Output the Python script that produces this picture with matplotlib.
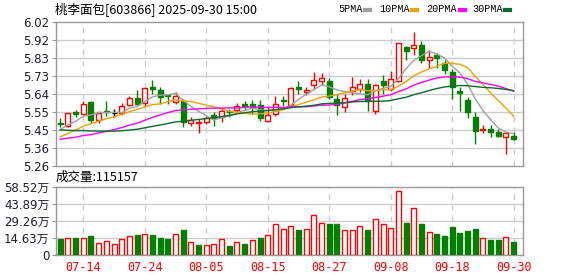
import numpy as np
import pandas as pd
import matplotlib
matplotlib.use("Agg")
import matplotlib.pyplot as plt
from matplotlib.patches import Rectangle
from matplotlib.lines import Line2D

# ---------------- data ----------------
dates = ["07-09","07-10","07-11","07-14","07-15","07-16","07-17","07-18","07-21","07-22",
         "07-23","07-24","07-25","07-28","07-29","07-30","07-31","08-01","08-04","08-05",
         "08-06","08-07","08-08","08-11","08-12","08-13","08-14","08-15","08-18","08-19",
         "08-20","08-21","08-22","08-25","08-26","08-27","08-28","08-29","09-01","09-02",
         "09-03","09-04","09-05","09-08","09-09","09-10","09-11","09-12","09-15","09-16",
         "09-17","09-18","09-19","09-22","09-23","09-24","09-25","09-26","09-29","09-30"]

open_ = [5.487,5.470,5.542,5.534,5.599,5.502,5.551,5.540,5.537,5.581,
         5.617,5.590,5.674,5.660,5.632,5.595,5.604,5.484,5.488,5.493,
         5.530,5.516,5.547,5.555,5.587,5.587,5.582,5.498,5.534,5.608,
         5.583,5.678,5.648,5.687,5.707,5.705,5.610,5.572,5.654,5.666,
         5.693,5.551,5.705,5.666,5.705,5.885,5.878,5.896,5.820,5.843,
         5.804,5.754,5.652,5.608,5.520,5.449,5.454,5.440,5.410,5.419]
high = [5.515,5.541,5.553,5.600,5.600,5.551,5.600,5.560,5.590,5.630,
        5.660,5.672,5.710,5.674,5.640,5.648,5.610,5.520,5.507,5.522,
        5.542,5.564,5.560,5.590,5.600,5.608,5.608,5.569,5.627,5.627,
        5.673,5.706,5.675,5.754,5.751,5.722,5.640,5.640,5.728,5.720,
        5.720,5.693,5.737,5.760,5.905,5.890,5.963,5.920,5.870,5.852,
        5.816,5.772,5.675,5.622,5.542,5.477,5.477,5.454,5.440,5.440]
low = [5.463,5.465,5.518,5.532,5.485,5.488,5.525,5.516,5.530,5.578,
       5.580,5.578,5.640,5.587,5.585,5.587,5.463,5.472,5.436,5.481,
       5.472,5.493,5.516,5.542,5.556,5.534,5.498,5.489,5.525,5.578,
       5.578,5.640,5.631,5.666,5.684,5.614,5.529,5.546,5.631,5.648,
       5.551,5.534,5.640,5.657,5.700,5.816,5.845,5.800,5.776,5.777,
       5.746,5.614,5.551,5.513,5.378,5.431,5.410,5.410,5.325,5.398]
close = [5.480,5.539,5.535,5.587,5.502,5.540,5.542,5.540,5.578,5.619,
         5.587,5.671,5.663,5.622,5.627,5.627,5.489,5.502,5.493,5.513,
         5.513,5.551,5.542,5.578,5.578,5.569,5.511,5.528,5.587,5.600,
         5.671,5.666,5.660,5.710,5.722,5.625,5.583,5.619,5.675,5.693,
         5.604,5.684,5.687,5.720,5.905,5.865,5.896,5.816,5.835,5.830,
         5.763,5.678,5.643,5.542,5.442,5.454,5.440,5.419,5.436,5.400]
# closes of the 29 sessions before the first visible day (estimated from MA lines)
history_close = [5.60,5.59,5.58,5.57,5.56,5.55,5.54,5.52,5.50,5.46,
                 5.45,5.43,5.41,5.39,5.38,5.37,5.36,5.36,5.37,5.38,
                 5.36,5.36,5.37,5.38,5.40,5.42,5.44,5.45,5.47]

volume_wan = [13.7,14.3,14.6,14.3,16.3,10.0,11.7,9.4,13.4,16.3,
              17.1,17.7,17.1,14.6,13.7,17.7,21.4,10.8,8.6,8.6,
              9.4,13.4,7.7,10.8,9.4,12.6,14.6,17.1,26.3,22.0,
              24.8,21.4,22.0,34.0,27.1,26.6,26.6,21.1,21.1,24.6,
              21.4,30.5,26.3,22.8,54.5,27.4,40.0,26.6,19.4,18.0,
              16.3,24.0,18.8,20.6,22.3,14.3,12.8,12.8,15.1,11.52]
volume_up = [0,1,0,1,0,1,1,1,1,1,
             0,1,0,0,0,1,0,1,0,1,
             1,1,0,1,0,1,0,1,1,1,
             1,0,1,1,1,0,0,1,1,1,
             0,1,1,1,1,0,1,0,1,0,
             0,0,0,0,0,1,0,0,1,0]

price_ticks = [5.26,5.355,5.45,5.545,5.64,5.735,5.83,5.925,6.02]
price_labels = ["5.26","5.36","5.45","5.55","5.64","5.73","5.83","5.92","6.02"]
vol_ticks = [0,14.63,29.26,43.89,58.52]
vol_labels = ["0","14.63万","29.26万","43.89万","58.52万"]
xtick_dates = ["07-14","07-24","08-05","08-15","08-27","09-08","09-18","09-30"]

title = "桃李面包[603866] 2025-09-30 15:00"
vol_title = "成交量:115157"
ma_windows = [5, 10, 20, 30]
ma_names = ["5PMA", "10PMA", "20PMA", "30PMA"]

# ---------------- style ----------------
RED = "#ff0000"
GREEN = "#008000"
MA_COLORS = ["#a0a0a0", "#f0a000", "#ff00ff", "#0a6b2c"]
GRID = "#cccccc"
SPINE = "#999999"
TXT = "#1c1c2c"

plt.rcParams["font.family"] = ["Noto Sans CJK SC", "DejaVu Sans"]

fig = plt.figure(figsize=(5.78, 2.76), dpi=100)
ax = fig.add_axes([0.0964, 0.3986, 0.8076, 0.5235])
axv = fig.add_axes([0.0964, 0.0761, 0.8076, 0.2475])

n = len(close)
x = np.arange(n)
tick_idx = [dates.index(d) for d in xtick_dates]

for a in (ax, axv):
    a.set_xlim(-0.585, n + 0.15)
    for s in a.spines.values():
        s.set_color(SPINE)
        s.set_linewidth(1.0)
    a.set_xticks(tick_idx)
    for t in tick_idx:
        a.axvline(t, color=GRID, lw=1, ls=(0, (4, 4)), zorder=0)
    a.tick_params(axis="y", direction="out", length=3, color=SPINE,
                  labelsize=8.5, pad=1.5, labelcolor=TXT)
    a.tick_params(axis="x", length=0)

# price axis
ax.set_ylim(price_ticks[0], price_ticks[-1])
ax.set_yticks(price_ticks)
ax.set_yticklabels(price_labels, family="DejaVu Sans")
for t in price_ticks[1:-1]:
    ax.axhline(t, color=GRID, lw=1, zorder=0)
ax.set_xticklabels([])

w = 0.65
for i in range(n):
    o, h, l, c = open_[i], high[i], low[i], close[i]
    if c > o:
        col, face = RED, "white"
    elif c < o:
        col, face = GREEN, GREEN
    else:
        col, face = "black", "black"
    ax.vlines(x[i], l, h, color=col, lw=1, zorder=2)
    if c != o:
        ax.add_patch(Rectangle((x[i] - w / 2, min(o, c)), w, abs(c - o),
                               facecolor=face, edgecolor=col, lw=1, zorder=3))
    else:
        ax.hlines(o, x[i] - w / 2, x[i] + w / 2, color=col, lw=1, zorder=3)

full = pd.Series(history_close + close)
for win, colr in zip(ma_windows, MA_COLORS):
    ma = full.rolling(win).mean().values[len(history_close):]
    ax.plot(x, ma, color=colr, lw=1, zorder=4)

# volume axis
axv.set_ylim(vol_ticks[0], vol_ticks[-1])
axv.set_yticks(vol_ticks)
axv.set_yticklabels(vol_labels, family=["DejaVu Sans", "Noto Sans CJK SC"])
for t in vol_ticks[1:-1]:
    axv.axhline(t, color=GRID, lw=1, zorder=0)
for i in range(n):
    if volume_up[i]:
        axv.bar(x[i], volume_wan[i], width=w, facecolor="white", edgecolor=RED, lw=1, zorder=3)
    else:
        axv.bar(x[i], volume_wan[i], width=w, facecolor=GREEN, edgecolor=GREEN, lw=1, zorder=3)
axv.set_xticklabels(xtick_dates, color=RED, fontsize=8.5, family="DejaVu Sans Mono")
axv.tick_params(axis="x", pad=4)

# texts
fig.text(55 / 578, 1 - 9.5 / 276, title, fontsize=9, color="black", va="center", ha="left")
fig.text(56 / 578, 1 - 177 / 276, vol_title, fontsize=9, color="black", va="center", ha="left")

# legend
legend_text_x = [338.5, 379.5, 426, 472]
legend_mark_x = [365, 412, 459.5, 505]
for name, tx, mx, colr in zip(ma_names, legend_text_x, legend_mark_x, MA_COLORS):
    fig.text(tx / 578, 1 - 9.5 / 276, name, fontsize=7.3, family="Liberation Mono",
             color="black", va="center", ha="left")
    fig.add_artist(Line2D([mx / 578, (mx + 5) / 578], [1 - 10 / 276, 1 - 10 / 276],
                          transform=fig.transFigure, color=colr, lw=3))

fig.savefig("out.png", dpi=100)
